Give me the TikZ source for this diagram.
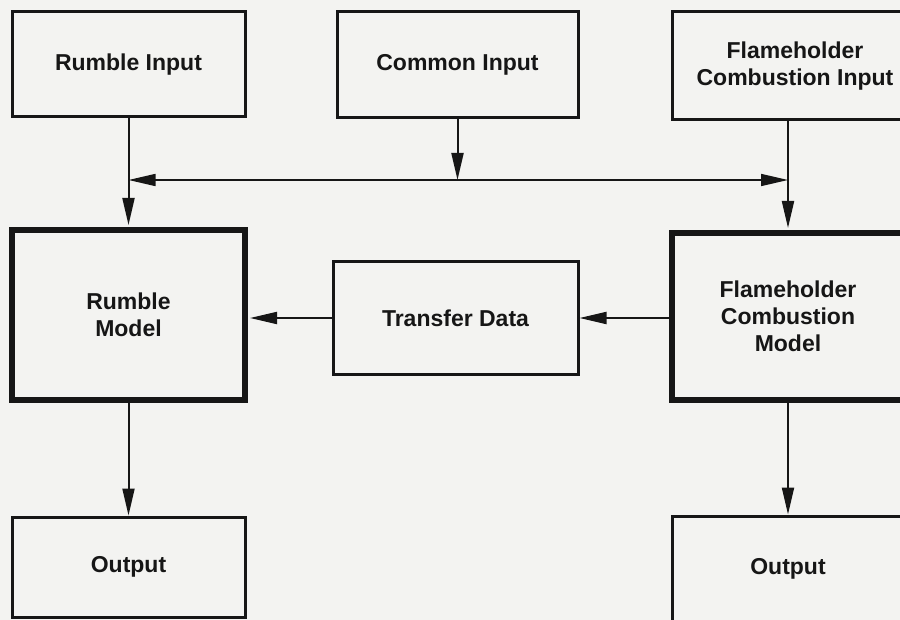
\documentclass[tikz,border=0pt]{standalone}
\usepackage{fontspec}
\setmainfont{Liberation Sans}
\usetikzlibrary{arrows.meta}
\definecolor{paper}{RGB}{243,243,241}
\definecolor{ink}{RGB}{22,22,22}
\begin{document}
\begin{tikzpicture}[x=1pt,y=-1pt,
  every node/.style={font=\fontsize{23}{27}\selectfont\bfseries, text=ink,
    align=center, inner sep=0pt},
  box/.style={draw=ink, line width=3pt, fill=paper},
  bigbox/.style={draw=ink, line width=6pt, fill=paper},
  flow/.style={draw=ink, line width=2pt, -{Triangle[length=27pt,width=12pt]}},
]
\fill[paper] (0,0) rectangle (900,620);
\useasboundingbox (0,0) rectangle (900,620);
\clip (0,0) rectangle (900,620);

% input row
\node[box, minimum width=233pt, minimum height=105pt] (rin) at (128.5,64.5) {Rumble Input};
\node[box, minimum width=241pt, minimum height=106pt] (cin) at (457.5,65) {Common Input};
\node[box, minimum width=246pt, minimum height=108pt] (fin) at (795,66) {Flameholder\\Combustion Input};

% model row
\node[bigbox, minimum width=233pt, minimum height=170pt] (rmod) at (128.5,315) {Rumble\\Model};
\node[box, minimum width=245pt, minimum height=113pt] (tdata) at (455.5,318) {Transfer Data};
\node[bigbox, minimum width=232pt, minimum height=167pt] (fmod) at (788,316.5) {Flameholder\\Combustion\\Model};

% output row
\node[box, minimum width=233pt, minimum height=100pt] (rout) at (128.5,567) {Output};
\node[box, minimum width=232pt, minimum height=106pt] (fout) at (788,569) {Output};

% common input distribution bus
\coordinate (busL) at (128.5,180);
\coordinate (busR) at (788,180);
\coordinate (busC) at (cin.south |- busL);
\draw[flow] (cin.south) -- (busC);
\draw[flow, line width=1.6pt] (busC) -- (busL);
\draw[flow, line width=1.6pt] (busC) -- (busR);

% inputs into the models
\draw[flow, shorten >=2pt] (rin.south) -- (rmod.north);
\draw[flow, shorten >=2pt] (fin.south -| fmod.north) -- (fmod.north);

% data transfer between the models
\draw[flow] (fmod.west |- tdata.east) -- (tdata.east);
\draw[flow, shorten >=2pt] (tdata.west) -- (rmod.east |- tdata.west);

% outputs
\draw[flow] (rmod.south) -- (rout.north);
\draw[flow] (fmod.south) -- (fout.north);
\end{tikzpicture}
\end{document}
